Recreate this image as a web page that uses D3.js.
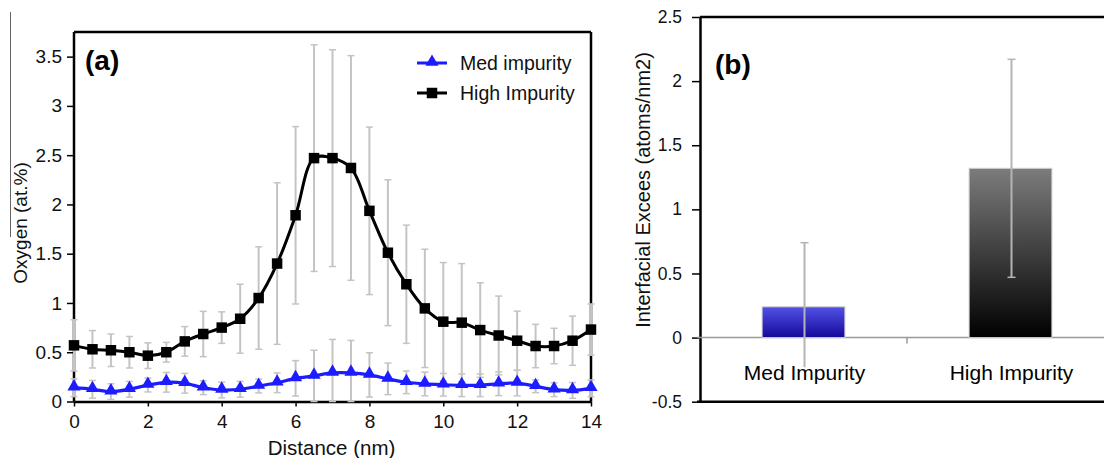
<!DOCTYPE html>
<html>
<head>
<meta charset="utf-8">
<script src="https://cdn.jsdelivr.net/npm/d3@7"></script>
<style>
  body { margin: 0; background: #fff; }
  svg { display: block; font-family: "Liberation Sans", Arial, sans-serif; }
</style>
</head>
<body>
<svg id="chart" width="1104" height="458"></svg>
<script>
// ---- data, panel (a)
var distance = [0, 0.5, 1, 1.5, 2, 2.5, 3, 3.5, 4, 4.5, 5, 5.5, 6, 6.5, 7, 7.5, 8, 8.5, 9, 9.5, 10, 10.5, 11, 11.5, 12, 12.5, 13, 13.5, 14];
var medImpurity = [0.14, 0.124, 0.10, 0.124, 0.167, 0.195, 0.185, 0.14, 0.117, 0.124, 0.157, 0.19, 0.235, 0.26, 0.29, 0.29, 0.27, 0.23, 0.195, 0.178, 0.17, 0.165, 0.165, 0.18, 0.187, 0.155, 0.12, 0.113, 0.134];
var medErr = [0.09, 0.09, 0.08, 0.08, 0.07, 0.1, 0.1, 0.07, 0.08, 0.08, 0.07, 0.1, 0.18, 0.26, 0.34, 0.33, 0.225, 0.16, 0.115, 0.12, 0.115, 0.115, 0.115, 0.12, 0.13, 0.065, 0.07, 0.08, 0.085];
var highImpurity = [0.57, 0.53, 0.52, 0.50, 0.465, 0.50, 0.61, 0.685, 0.75, 0.84, 1.05, 1.40, 1.89, 2.47, 2.47, 2.37, 1.935, 1.51, 1.19, 0.945, 0.81, 0.80, 0.725, 0.67, 0.617, 0.563, 0.563, 0.617, 0.73];
var highErr = [0.26, 0.19, 0.165, 0.16, 0.13, 0.1, 0.15, 0.23, 0.16, 0.35, 0.52, 0.82, 0.9, 1.15, 1.1, 1.14, 0.85, 0.74, 0.6, 0.6, 0.6, 0.6, 0.48, 0.4, 0.3, 0.22, 0.18, 0.25, 0.26];
var oxygenTicks = [0, 0.5, 1, 1.5, 2, 2.5, 3, 3.5];
var distanceTicks = [0, 2, 4, 6, 8, 10, 12, 14];

// ---- data, panel (b)
var samples = ["Med Impurity", "High Impurity"];
var excess = [0.24, 1.32];
var excessErr = [0.50, 0.85];
var excessTicks = [-0.5, 0, 0.5, 1, 1.5, 2, 2.5];

var svg = d3.select("#chart");
var errColor = "#c4c4c4";

// stray rule at the far left of the scan
svg.append("line").attr("x1", 10.5).attr("x2", 10.5).attr("y1", 12).attr("y2", 237)
  .attr("stroke", "#666").attr("stroke-width", 1);

// ================= panel (a) =================
var ax = { left: 74, right: 591, top: 32, bottom: 401.5 };

var x = d3.scaleLinear().domain([0, 14]).range([ax.left, ax.right]);
var y = d3.scaleLinear().domain([0, 3.75]).range([ax.bottom, ax.top]);

var ga = svg.append("g");

// frame top / right
ga.append("line").attr("x1", ax.left).attr("x2", ax.right).attr("y1", ax.top).attr("y2", ax.top)
  .attr("stroke", "#000").attr("stroke-width", 2.5);
ga.append("line").attr("x1", ax.right).attr("x2", ax.right).attr("y1", ax.top).attr("y2", ax.bottom)
  .attr("stroke", "#000").attr("stroke-width", 2.5);

var yAxisA = ga.append("g")
  .attr("transform", "translate(" + ax.left + ",0)")
  .call(d3.axisLeft(y).tickValues(oxygenTicks).tickFormat(function(d){ return String(d); })
    .tickSize(7).tickSizeOuter(0).tickPadding(5));

var xAxisA = ga.append("g")
  .attr("transform", "translate(0," + ax.bottom + ")")
  .call(d3.axisBottom(x).tickValues(distanceTicks).tickFormat(function(d){ return String(d); })
    .tickSize(5).tickSizeOuter(0));

[yAxisA, xAxisA].forEach(function(g){
  g.select(".domain").attr("stroke", "#000").attr("stroke-width", 2.5);
  g.selectAll(".tick line").attr("stroke", "#000").attr("stroke-width", 1.5);
  g.selectAll("text").attr("font-size", 19).attr("fill", "#111");
});
xAxisA.selectAll("text").attr("y", 20).attr("dy", "0.35em");
yAxisA.select(".domain").attr("d", "M0," + ax.top + "V" + ax.bottom);

// error bars (drawn over the frame, as in the original)
function errorBars(values, errs, cls) {
  var g = ga.append("g").attr("class", cls);
  var pts = distance.map(function(d, i){
    return { x: d, lo: Math.max(0, values[i] - errs[i]), hi: values[i] + errs[i] };
  });
  g.selectAll("line.v").data(pts).enter().append("line")
    .attr("x1", function(d){ return x(d.x); }).attr("x2", function(d){ return x(d.x); })
    .attr("y1", function(d){ return y(d.lo); }).attr("y2", function(d){ return y(d.hi); })
    .attr("stroke", errColor).attr("stroke-width", 2);
  ["lo", "hi"].forEach(function(k){
    g.selectAll("line.c" + k).data(pts).enter().append("line")
      .attr("x1", function(d){ return x(d.x) - 3.5; }).attr("x2", function(d){ return x(d.x) + 3.5; })
      .attr("y1", function(d){ return y(d[k]); }).attr("y2", function(d){ return y(d[k]); })
      .attr("stroke", errColor).attr("stroke-width", 1.5);
  });
}
errorBars(highImpurity, highErr, "err-high");
errorBars(medImpurity, medErr, "err-med");

var line = d3.line()
  .x(function(d){ return x(d[0]); })
  .y(function(d){ return y(d[1]); })
  .curve(d3.curveCatmullRom.alpha(0.5));

var highPts = distance.map(function(d, i){ return [d, highImpurity[i]]; });
var medPts = distance.map(function(d, i){ return [d, medImpurity[i]]; });

ga.append("path").datum(highPts).attr("d", line)
  .attr("fill", "none").attr("stroke", "#000").attr("stroke-width", 3);
ga.append("path").datum(medPts).attr("d", line)
  .attr("fill", "none").attr("stroke", "#1c1cff").attr("stroke-width", 3.2);

var square = d3.symbol().type(d3.symbolSquare).size(110);
var triangle = d3.symbol().type(d3.symbolTriangle).size(75);

ga.selectAll("path.sq").data(highPts).enter().append("path")
  .attr("class", "sq").attr("d", square)
  .attr("transform", function(d){ return "translate(" + x(d[0]) + "," + y(d[1]) + ")"; })
  .attr("fill", "#000");
ga.selectAll("path.tri").data(medPts).enter().append("path")
  .attr("class", "tri").attr("d", triangle)
  .attr("transform", function(d){ return "translate(" + x(d[0]) + "," + (y(d[1]) - 1) + ")"; })
  .attr("fill", "#1c1cff");

// labels
ga.append("text").attr("x", 85).attr("y", 70).attr("font-size", 28).attr("font-weight", "bold").text("(a)");
ga.append("text").attr("x", (ax.left + ax.right) / 2 - 1).attr("y", 448).attr("dy", "0.35em")
  .attr("text-anchor", "middle").attr("font-size", 20.5).attr("fill", "#111").text("Distance (nm)");
ga.append("text").attr("transform", "translate(20,223) rotate(-90)").attr("dy", "0.35em")
  .attr("text-anchor", "middle").attr("font-size", 19).attr("fill", "#111").text("Oxygen (at.%)");

// legend
var legend = [
  { name: "Med impurity", color: "#1c1cff", sym: triangle, y: 63 },
  { name: "High Impurity", color: "#000", sym: square, y: 93 }
];
var lg = ga.append("g");
legend.forEach(function(l){
  lg.append("line").attr("x1", 417).attr("x2", 447).attr("y1", l.y).attr("y2", l.y)
    .attr("stroke", l.color).attr("stroke-width", 3);
  lg.append("path").attr("d", l.sym).attr("fill", l.color)
    .attr("transform", "translate(432," + (l.y - (l.sym === triangle ? 1 : 0)) + ")");
  lg.append("text").attr("x", 460).attr("y", l.y).attr("dy", "0.35em")
    .attr("font-size", 19.5).attr("fill", "#111").text(l.name);
});

// ================= panel (b) =================
var bx = { left: 700, right: 1114, top: 17, bottom: 401.7 };

var xb = d3.scaleBand().domain(samples).range([bx.left, bx.right]).padding(0);
var yb = d3.scaleLinear().domain([-0.5, 2.5]).range([bx.bottom, bx.top]);

var gb = svg.append("g");

var defs = svg.append("defs");
var grads = [
  { id: "gMed", top: "#5252e6", bottom: "#14089a" },
  { id: "gHigh", top: "#7c7c7c", bottom: "#000000" }
];
grads.forEach(function(g){
  var lgr = defs.append("linearGradient").attr("id", g.id).attr("x1", 0).attr("x2", 0).attr("y1", 0).attr("y2", 1);
  lgr.append("stop").attr("offset", "0%").attr("stop-color", g.top);
  lgr.append("stop").attr("offset", "100%").attr("stop-color", g.bottom);
});

// frame top / bottom
gb.append("line").attr("x1", bx.left).attr("x2", 1104).attr("y1", bx.top).attr("y2", bx.top)
  .attr("stroke", "#000").attr("stroke-width", 2.5);
gb.append("line").attr("x1", bx.left - 3).attr("x2", 1104).attr("y1", bx.bottom).attr("y2", bx.bottom)
  .attr("stroke", "#000").attr("stroke-width", 2.5);

var yAxisB = gb.append("g")
  .attr("transform", "translate(" + bx.left + ",0)")
  .call(d3.axisLeft(yb).tickValues(excessTicks).tickFormat(function(d){ return String(d); })
    .tickSize(8).tickSizeOuter(0).tickPadding(10));
yAxisB.select(".domain").attr("stroke", "#000").attr("stroke-width", 2.5);
yAxisB.selectAll(".tick line").attr("stroke", "#000").attr("stroke-width", 1.5);
yAxisB.selectAll("text").attr("font-size", 17.5).attr("fill", "#111");

// zero line + category separator
gb.append("line").attr("x1", bx.left - 3).attr("x2", 1104).attr("y1", yb(0)).attr("y2", yb(0))
  .attr("stroke", "#999").attr("stroke-width", 1.5);
gb.append("line").attr("x1", xb("High Impurity")).attr("x2", xb("High Impurity"))
  .attr("y1", yb(0)).attr("y2", yb(0) + 6).attr("stroke", "#999").attr("stroke-width", 1.5);

var barW = xb.bandwidth() * 0.4;
gb.selectAll("rect.bar").data(samples).enter().append("rect")
  .attr("class", "bar")
  .attr("x", function(d){ return xb(d) + xb.bandwidth() / 2 - barW / 2; })
  .attr("width", barW)
  .attr("y", function(d, i){ return yb(excess[i]); })
  .attr("height", function(d, i){ return yb(0) - yb(excess[i]); })
  .attr("fill", function(d, i){ return "url(#" + grads[i].id + ")"; })
  .attr("stroke", "#d0d0d0").attr("stroke-width", 1);

// error bars
samples.forEach(function(s, i){
  var cx = xb(s) + xb.bandwidth() / 2 + 1;
  var lo = excess[i] - excessErr[i], hi = excess[i] + excessErr[i];
  gb.append("line").attr("x1", cx).attr("x2", cx).attr("y1", yb(lo)).attr("y2", yb(hi))
    .attr("stroke", "#b4b4b4").attr("stroke-width", 2);
  [lo, hi].forEach(function(v){
    gb.append("line").attr("x1", cx - 4).attr("x2", cx + 4).attr("y1", yb(v)).attr("y2", yb(v))
      .attr("stroke", "#b4b4b4").attr("stroke-width", 1.5);
  });
});

// category labels (white halo hides the error line behind them)
gb.selectAll("text.cat").data(samples).enter().append("text")
  .attr("class", "cat")
  .attr("x", function(d){ return xb(d) + xb.bandwidth() / 2 + 1; })
  .attr("y", 373).attr("dy", "0.35em")
  .attr("text-anchor", "middle").attr("font-size", 21).attr("fill", "#000")
  .attr("stroke", "#fff").attr("stroke-width", 4).attr("paint-order", "stroke")
  .text(function(d){ return d; });

gb.append("text").attr("x", 715).attr("y", 74).attr("font-size", 28).attr("font-weight", "bold").text("(b)");
gb.append("text").attr("transform", "translate(643,190) rotate(-90)").attr("dy", "0.35em")
  .attr("text-anchor", "middle").attr("font-size", 20).attr("fill", "#111")
  .text("Interfacial Excees (atoms/nm2)");
</script>
</body>
</html>
